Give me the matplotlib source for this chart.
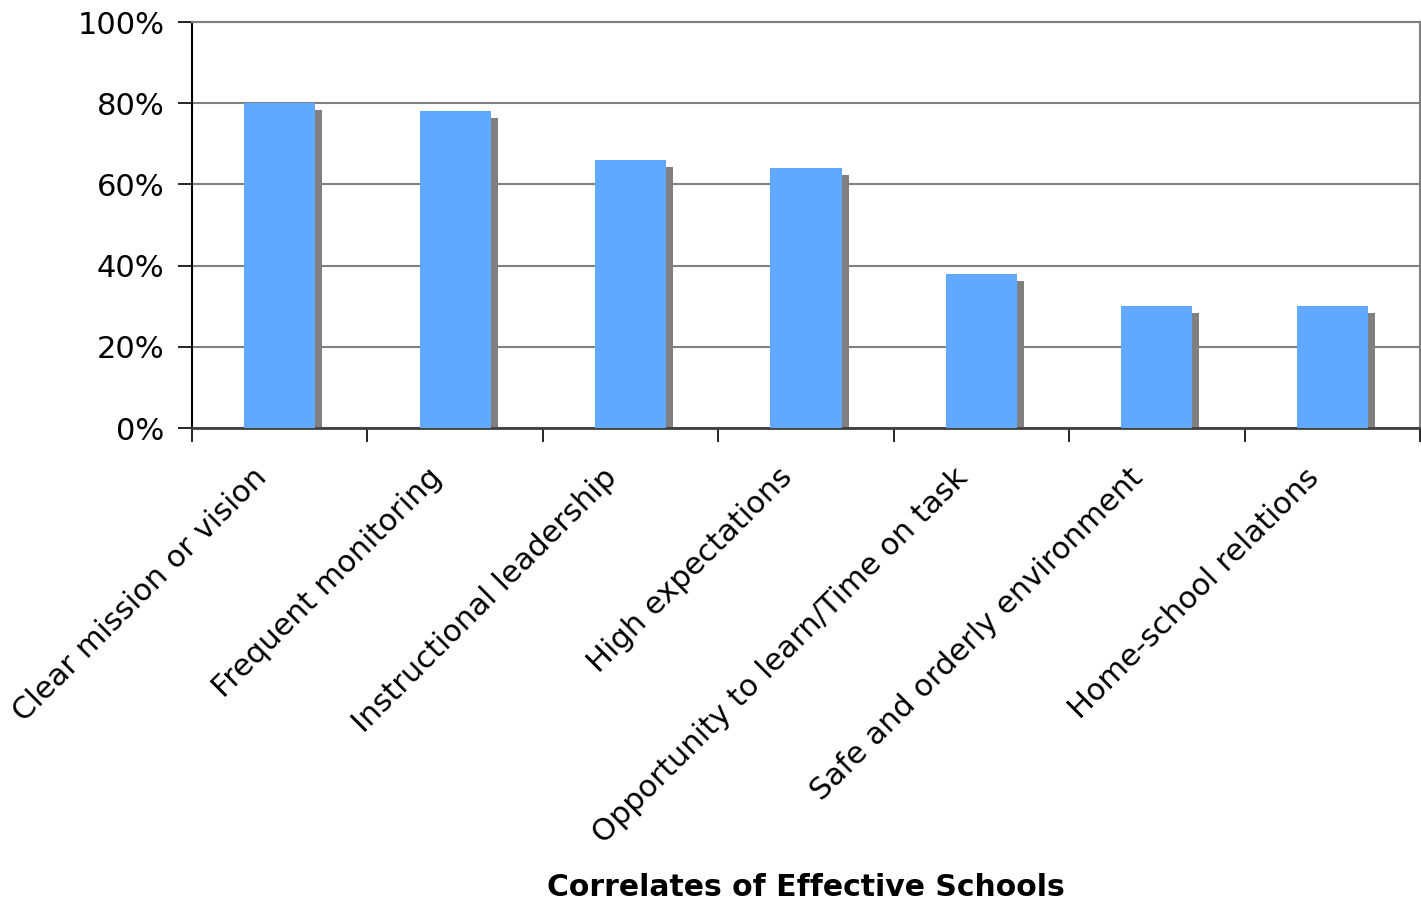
import numpy as np
import matplotlib.pyplot as plt
from matplotlib.ticker import FixedLocator, NullFormatter

categories = ['Clear mission or vision', 'Frequent monitoring', 'Instructional leadership',
              'High expectations', 'Opportunity to learn/Time on task',
              'Safe and orderly environment', 'Home-school relations']
values = [80, 78, 66, 64, 38, 30, 30]
y_ticks = [0, 20, 40, 60, 80, 100]
y_labels = ['0%', '20%', '40%', '60%', '80%', '100%']

plt.rcParams['font.family'] = ['DejaVu Sans']

fig = plt.figure(figsize=(14.21, 9.02), dpi=100)
ax = fig.add_axes([192 / 1421, 1 - 428 / 902, (1420 - 192) / 1421, (428 - 22) / 902])

x = np.arange(len(categories))
bar_w = 0.405
# drop shadow: shifted right and down by a few pixels
dx = 7 / 175.4
dy = 7 / 406 * 100
ax.bar(x + dx, np.array(values) - dy, width=bar_w, color='#808080', zorder=2)
ax.bar(x, values, width=bar_w, color='#61a8ff', zorder=3)

ax.set_xlim(-0.5, len(categories) - 0.5)
ax.set_ylim(0, 100)
ax.set_yticks(y_ticks)
ax.set_yticklabels(y_labels, fontsize=22)
ax.yaxis.grid(True, color='#808080', linewidth=1.5, zorder=1)
ax.set_axisbelow(True)

ax.xaxis.set_major_locator(FixedLocator(np.arange(len(categories) + 1) - 0.5))
ax.xaxis.set_major_formatter(NullFormatter())
ax.tick_params(axis='x', direction='out', length=10, width=1.2, color='black')
ax.tick_params(axis='y', direction='out', length=10, width=1.2, color='black', pad=10)

for i, lab in enumerate(categories):
    ax.annotate(lab, xy=(i, 0), xycoords=('data', 'axes fraction'),
                xytext=(-18, -45), textcoords='offset pixels',
                rotation=45, rotation_mode='anchor', ha='right', va='center',
                fontsize=22)

for side in ['top', 'right']:
    ax.spines[side].set_color('#808080')
    ax.spines[side].set_linewidth(1.5)
ax.spines['left'].set_color('black')
ax.spines['left'].set_linewidth(1.5)
ax.spines['bottom'].set_color('#404040')
ax.spines['bottom'].set_linewidth(2)

fig.text(806 / 1421, 1 - 887 / 902, 'Correlates of Effective Schools', ha='center', va='center',
         fontsize=21.5, fontweight='bold')

fig.savefig('out.png', dpi=100)
